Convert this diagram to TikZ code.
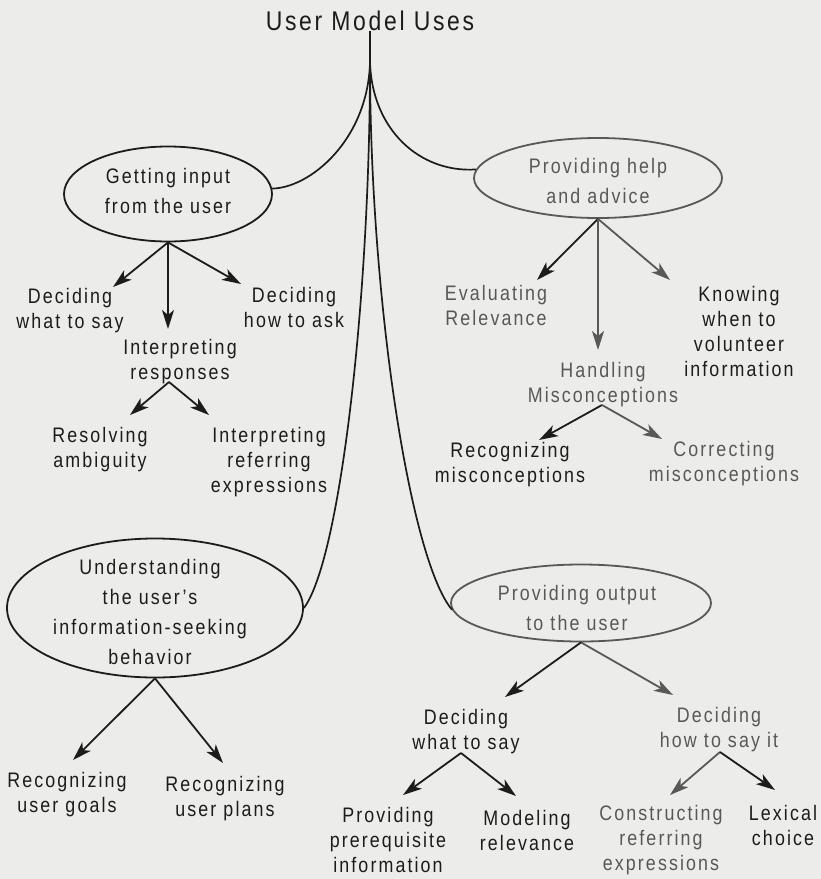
\documentclass[tikz,border=0pt]{standalone}
\usepackage{fontspec}
\setmainfont{Liberation Sans}[FakeStretch=0.85, LetterSpace=10]
\usetikzlibrary{arrows.meta, shapes.geometric}

\definecolor{paper}{RGB}{236,236,234}
\definecolor{ink}{RGB}{28,28,28}
\definecolor{inklight}{RGB}{88,88,88}

\tikzset{
  lbl/.style={align=center, inner sep=0pt, text=ink,
    font=\fontsize{21}{25}\selectfont},
  bubbletext/.style={align=center, inner sep=0pt, text=ink,
    font=\fontsize{21}{30}\selectfont},
  bubble/.style={ellipse, draw=ink, line width=1.8pt, inner sep=0pt},
  branch/.style={draw=ink, line width=1.7pt},
  arr/.style={draw=ink, line width=1.8pt,
    -{Stealth[length=19pt, width=12pt, inset=5pt]}},
  lighttext/.style={text=inklight},
  lightline/.style={draw=inklight},
}

\begin{document}
\begin{tikzpicture}[x=1pt, y=-1pt]
  % page
  \fill[paper] (0,0) rectangle (821,879);
  \useasboundingbox (0,0) rectangle (821,879);

  % root
  \node[lbl, font=\fontsize{27}{30}\selectfont] (title) at (370,21) {User Model Uses};
  \coordinate (root) at (370,62);

  % the four main uses
  \node[bubble, minimum width=208pt, minimum height=95pt] (gi) at (168,194) {};
  \node[bubbletext] (gi-t) at (168,191) {Getting input\\from the user};

  \node[bubble, lightline, minimum width=248pt, minimum height=80pt] (help) at (598,178) {};
  \node[bubbletext, lighttext] (help-t) at (598,181) {Providing help\\and advice};

  \node[bubble, minimum width=296pt, minimum height=139pt] (und) at (155,608) {};
  \node[bubbletext] (und-t) at (150,612) {Understanding\\the user's\\information-seeking\\behavior};

  \node[bubble, lightline, minimum width=260pt, minimum height=77pt] (outp) at (581,603) {};
  \node[bubbletext, lighttext] (outp-t) at (577,608) {Providing output\\to the user};

  % branches from the root
  \draw[branch, line width=2.4pt] (title.south) -- (root);
  \draw[branch] (root) .. controls (368,140) and (310,188) .. (gi.3);
  \draw[branch] (root) .. controls (372,130) and (420,173) .. (help.176);
  \draw[branch] (root) .. controls (370,300) and (340,560) .. (und.east);
  \draw[branch] (root) .. controls (370,300) and (410,560) .. (outp.183);

  % getting input
  \node[lbl] (dwts1) at (70,311) {Deciding\\what to say};
  \node[lbl] (dhta) at (294,307) {Deciding\\how to ask};
  \node[lbl] (ir) at (180,362) {Interpreting\\responses};
  \node[lbl] (ra) at (100,450) {Resolving\\ambiguity};
  \node[lbl] (ire) at (269,462) {Interpreting\\referring\\expressions};

  \coordinate (tip-dwts1) at (113,287);
  \coordinate (tip-dhta) at (241,284);
  \coordinate (tip-ir) at (168,329);
  \coordinate (resp) at (169,382);
  \coordinate (tip-ra) at (130,415);
  \coordinate (tip-ire) at (209,415);

  \draw[arr] (gi.south) -- (tip-dwts1);
  \draw[arr] (gi.south) -- (tip-dhta);
  \draw[arr] (gi.south) -- (tip-ir);
  \draw[arr] (resp) -- (tip-ra);
  \draw[arr] (resp) -- (tip-ire);

  % help and advice
  \node[lbl, lighttext] (er) at (496,305) {Evaluating\\Relevance};
  \node[lbl] (kwv) at (739,331) {Knowing\\when to\\volunteer\\information};
  \node[lbl, lighttext] (hm) at (603,385) {Handling\\Misconceptions};
  \node[lbl] (rm) at (510,465) {Recognizing\\misconceptions};
  \node[lbl, lighttext] (cm) at (724,464) {Correcting\\misconceptions};

  \coordinate (tip-er) at (537,280);
  \coordinate (tip-kwv) at (670,280);
  \coordinate (tip-hm) at (598,350);
  \coordinate (misc) at (602,405);
  \coordinate (tip-rm) at (539,440);
  \coordinate (tip-cm) at (662,439);

  \draw[arr] (help.south) -- (tip-er);
  \draw[arr, lightline] (help.south) -- (tip-kwv);
  \draw[arr, lightline] (help.south) -- (tip-hm);
  \draw[arr] (misc) -- (tip-rm);
  \draw[arr, lightline] (misc) -- (tip-cm);

  % information-seeking behaviour
  \node[lbl] (rug) at (67,795) {Recognizing\\user goals};
  \node[lbl] (rup) at (225,799) {Recognizing\\user plans};

  \coordinate (tip-rug) at (73,760);
  \coordinate (tip-rup) at (223,763);

  \draw[arr] (und.south) -- (tip-rug);
  \draw[arr] (und.south) -- (tip-rup);

  % output to the user
  \node[lbl] (dwts2) at (466,732) {Deciding\\what to say};
  \node[lbl, lighttext] (dhtsi) at (719,730) {Deciding\\how to say it};
  \node[lbl] (ppi) at (388,840) {Providing\\prerequisite\\information};
  \node[lbl] (mr) at (527,830) {Modeling\\relevance};
  \node[lbl, lighttext] (cre) at (661,840) {Constructing\\referring\\expressions};
  \node[lbl] (lc) at (783,825) {Lexical\\choice};

  \coordinate (tip-dwts2) at (505,697);
  \coordinate (tip-dhtsi) at (673,695);
  \coordinate (wts) at (461,753);
  \coordinate (tip-ppi) at (403,795);
  \coordinate (tip-mr) at (516,796);
  \coordinate (htsi) at (720,752);
  \coordinate (tip-cre) at (670,795);
  \coordinate (tip-lc) at (775,790);

  \draw[arr] (outp.south) -- (tip-dwts2);
  \draw[arr, lightline] (outp.south) -- (tip-dhtsi);
  \draw[arr] (wts) -- (tip-ppi);
  \draw[arr] (wts) -- (tip-mr);
  \draw[arr, lightline] (htsi) -- (tip-cre);
  \draw[arr] (htsi) -- (tip-lc);
\end{tikzpicture}
\end{document}
